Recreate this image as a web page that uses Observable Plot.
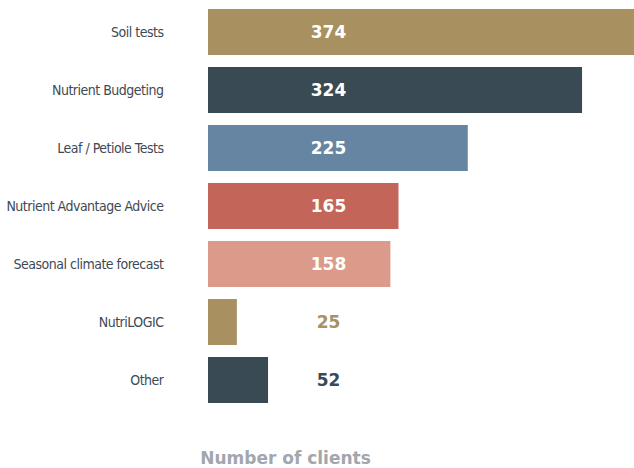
<!DOCTYPE html>
<html><head><meta charset="utf-8">
<script src="https://cdn.jsdelivr.net/npm/d3@7"></script>
<script src="https://cdn.jsdelivr.net/npm/@observablehq/plot@0.6"></script>
<style>
body{margin:0;background:#fff;}
#chart svg{display:block;}
</style>
</head><body><div id="chart"></div>
<script>
const categories = ["Soil tests","Nutrient Budgeting","Leaf / Petiole Tests","Nutrient Advantage Advice","Seasonal climate forecast","NutriLOGIC","Other"];
const values = [374, 324, 225, 165, 158, 25, 52];
const barColors = ["#a89060","#3a4a55","#6585a3","#c4655a","#dc9a8b","#a89060","#3a4a55"];
const labelInside = [true,true,true,true,true,false,false];
const axisTitle = "Number of clients";

const data = categories.map((c,i)=>({cat:c, value:values[i], color:barColors[i], inside:labelInside[i]}));

const chart = Plot.plot({
  width: 634, height: 468,
  marginLeft: 208, marginRight: 0, marginTop: 3, marginBottom: 59,
  x: {domain: [0, 369], axis: null, clamp: true},
  y: {domain: categories, paddingInner: 0.207, paddingOuter: 0.1035, label: null},
  marks: [
    Plot.barX(data, {y: "cat", x: "value", fill: d => d.color}),
    Plot.axisY({tickSize: 0, tickPadding: 45, fontSize: 14, fill: "#3d4a55",
      fontFamily: "'DejaVu Sans Condensed', 'DejaVu Sans', sans-serif", label: null}),
    Plot.text(data, {y: "cat", frameAnchor: "left", dx: 120, text: d => String(d.value),
      fill: d => d.inside ? "#ffffff" : d.color, fontSize: 17, fontWeight: "bold",
      fontFamily: "'DejaVu Sans', sans-serif", textAnchor: "middle"}),
    Plot.text([axisTitle], {frameAnchor: "bottom-left", dx: 77, dy: 54, text: d => d,
      fill: "#a2a6ad", fontSize: 17, fontWeight: "bold", fontFamily: "'DejaVu Sans', sans-serif",
      textAnchor: "middle"})
  ],
  style: {background: "#fff", overflow: "hidden"}
});
chart.querySelectorAll("g[aria-label='y-axis tick label'] text").forEach(t => {
  t.style.fontStretch = "condensed";
  t.style.letterSpacing = "-0.5px";
});
document.getElementById("chart").append(chart);
</script>
</body></html>
